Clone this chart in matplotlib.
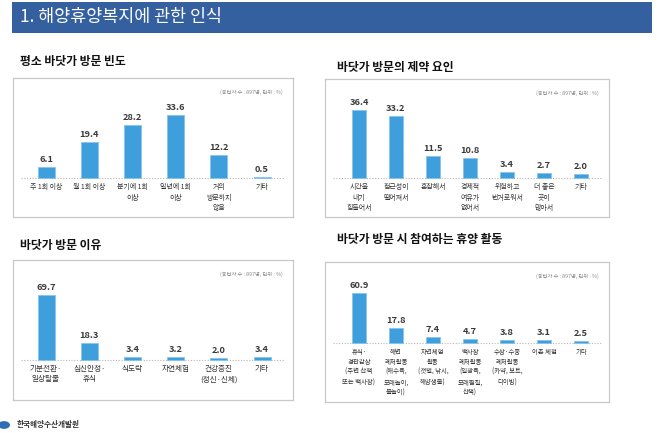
import matplotlib
matplotlib.use("Agg")
import matplotlib.pyplot as plt
from matplotlib.patches import Rectangle, Circle

plt.rcParams['font.family'] = ['Noto Sans CJK KR', 'DejaVu Sans']

# ---------------- data ----------------
header_title = "1. 해양휴양복지에 관한 인식"
source_note = "(응답자 수 : 897명, 단위 : %)"
footer_text = "한국해양수산개발원"

freq_title = "평소 바닷가 방문 빈도"
freq_labels = ["주 1회 이상", "월 1회 이상", "분기에 1회\n이상", "일년에 1회\n이상",
               "거의\n방문하지\n않음", "기타"]
freq_values = [6.1, 19.4, 28.2, 33.6, 12.2, 0.5]

barrier_title = "바닷가 방문의 제약 요인"
barrier_labels = ["시간을\n내기\n힘들어서", "접근성이\n떨어져서", "혼잡해서", "경제적\n여유가\n없어서",
                  "위험하고\n번거로워서", "더 좋은\n곳이\n많아서", "기타"]
barrier_values = [36.4, 33.2, 11.5, 10.8, 3.4, 2.7, 2.0]

reason_title = "바닷가 방문 이유"
reason_labels = ["기분전환·\n일상탈출", "심신안정·\n휴식", "식도락", "자연체험",
                 "건강증진\n(정신·신체)", "기타"]
reason_values = [69.7, 18.3, 3.4, 3.2, 2.0, 3.4]

activity_title = "바닷가 방문 시 참여하는 휴양 활동"
activity_labels = ["휴식·\n경관감상\n(주변 산책\n또는 백사장)", "해변\n레저활동\n(해수욕,\n모래놀이,\n물놀이)",
                   "자연체험\n활동\n(갯벌, 낚시,\n해양생물)", "백사장\n레저활동\n(일광욕,\n모래찜질,\n산책)",
                   "수상·수중\n레저활동\n(카약, 보트,\n다이빙)", "어촌 체험", "기타"]
activity_values = [60.9, 17.8, 7.4, 4.7, 3.8, 3.1, 2.5]

# ---------------- layout ----------------
W, H = 668, 433
fig = plt.figure(figsize=(W / 100, H / 100), dpi=100)
fig.patch.set_facecolor("white")


def fx(x):
    return x / W


def fy(y):
    return 1 - y / H


# header bar
fig.patches.append(Rectangle((fx(12), fy(33)), fx(652) - fx(12), fy(2) - fy(33),
                             transform=fig.transFigure, facecolor="#35609f",
                             edgecolor="none", zorder=0))
fig.text(fx(20), fy(17), header_title, color="white", fontsize=12.5,
         ha="left", va="center", fontweight="medium")

BAR_COLOR = "#3f9edc"
BAR_EDGE = "#86c4ec"


def panel(box, labels, values, c0, step, base_y, k, bw, title, title_xy,
          lab_size=5.0, lab_ls=1.45):
    x0, y0, x1, y1 = box
    ax = fig.add_axes([fx(x0), fy(y1), (x1 - x0) / W, (y1 - y0) / H])
    xmin = -(c0 - x0) / step
    xmax = xmin + (x1 - x0) / step
    ymin = -(y1 - base_y) / k
    ymax = ymin + (y1 - y0) / k
    ax.set_xlim(xmin, xmax)
    ax.set_ylim(ymin, ymax)
    ax.set_xticks([])
    ax.set_yticks([])
    for sp in ax.spines.values():
        sp.set_color("#c9c9c9")
        sp.set_linewidth(0.9)
    xs = list(range(len(values)))
    ax.bar(xs, values, width=bw / step, color=BAR_COLOR, edgecolor=BAR_EDGE,
           linewidth=0.6, zorder=3)
    ax.plot([xmin + 8 / step, xmax - 8 / step], [0, 0], ls=(0, (1, 1.5)),
            color="#b5b5b5", lw=0.8, zorder=2)
    for x, v, lab in zip(xs, values, labels):
        ax.annotate(f"{v:.1f}", (x, v), xytext=(0, 2.2), textcoords="offset points",
                    ha="center", va="bottom", fontsize=6.7, fontweight="bold",
                    color="#3a3a3a")
        ax.annotate(lab, (x, 0), xytext=(0, -3.5), textcoords="offset points",
                    ha="center", va="top", fontsize=lab_size, color="#333333",
                    linespacing=lab_ls, fontweight="medium")
    ax.text(0.965, 0.9, source_note, transform=ax.transAxes, ha="right",
            va="center", fontsize=3.8, color="#8a8a8a")
    fig.text(fx(title_xy[0]), fy(title_xy[1]), title, ha="left", va="center",
             fontsize=8.5, fontweight="black", color="#111111")
    return ax


panel((13, 78, 293, 217), freq_labels, freq_values, 46, 43.2, 178, 1.875, 17,
      freq_title, (20, 62))
panel((325, 79, 609, 217), barrier_labels, barrier_values, 359, 37.0, 178, 1.87, 14,
      barrier_title, (337, 67))
panel((13, 260, 293, 400), reason_labels, reason_values, 46, 43.2, 360, 0.93, 17,
      reason_title, (20, 246), lab_size=5.5, lab_ls=1.4)
panel((325, 262, 609, 402), activity_labels, activity_values, 359, 37.0, 343, 0.82, 14,
      activity_title, (337, 240), lab_size=4.6, lab_ls=1.35)

# footer
fig.patches.append(Circle((fx(4), fy(425)), 6 / W, transform=fig.transFigure,
                          facecolor="#2f6db4", edgecolor="none"))
fig.text(fx(17), fy(425), footer_text, ha="left", va="center", fontsize=5.5,
         color="#333333", fontweight="bold")

fig.savefig("out.png", dpi=100, facecolor="white")
